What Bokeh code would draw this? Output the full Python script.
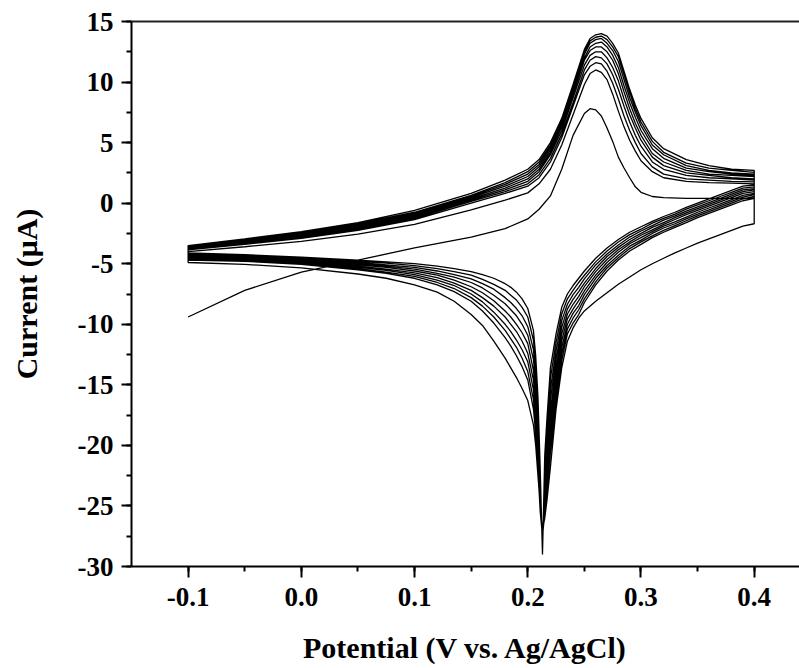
from bokeh.plotting import figure
from bokeh.models import Range1d, SingleIntervalTicker, PrintfTickFormatter, LinearAxis, FixedTicker
from bokeh.embed import file_html
from bokeh.resources import INLINE

# Potential grids (V vs. Ag/AgCl)
FWD_X = [-0.1, -0.05, 0.0, 0.05, 0.1, 0.15, 0.18, 0.2, 0.21, 0.22, 0.23, 0.24, 0.25, 0.255,
         0.26, 0.265, 0.27, 0.275, 0.28, 0.285, 0.29, 0.295, 0.3, 0.31, 0.32, 0.34, 0.36, 0.38, 0.4]
REV_X = [0.4, 0.39, 0.38, 0.37, 0.36, 0.35, 0.34, 0.33, 0.32, 0.31, 0.3, 0.29, 0.28, 0.27, 0.26,
         0.25, 0.245, 0.24, 0.235, 0.23, 0.225, 0.22, 0.217, 0.215,
         0.213, 0.211, 0.209, 0.207, 0.205, 0.2, 0.195, 0.19, 0.185, 0.18, 0.17, 0.16, 0.15,
         0.135, 0.12, 0.1, 0.075, 0.05, 0.0, -0.05, -0.1]

# Current (uA), anodic (forward) sweeps, cycles 1..10
FWD_C1 = [-9.4, -7.2, -5.7, -4.7, -3.7, -2.8, -2.1, -1.3, -0.5, 0.6, 2.8, 5.6, 7.4, 7.8, 7.7, 7.2, 6.2, 5.1, 3.8, 2.9, 2.1, 1.35, 0.9, 0.55, 0.45, 0.4, 0.4, 0.4, 0.4]
FWD_C2 = [-4.0, -3.6, -3.15, -2.55, -1.75, -0.55, 0.25, 0.85, 1.6, 2.8, 4.8, 7.3, 9.8, 10.7, 11.0, 10.8, 10.2, 9.0, 7.6, 6.3, 5.2, 4.3, 3.5, 2.6, 2.1, 1.8, 1.7, 1.65, 1.6]
FWD_C3 = [-3.85, -3.4, -2.9, -2.25, -1.35, 0.0, 0.8, 1.4, 2.1, 3.4, 5.4, 8.0, 10.6, 11.3, 11.6, 11.5, 10.9, 9.9, 8.6, 7.2, 6.0, 5.0, 4.1, 3.0, 2.4, 2.0, 1.9, 1.8, 1.75]
FWD_C4 = [-3.8, -3.35, -2.8, -2.15, -1.25, 0.15, 0.95, 1.6, 2.35, 3.7, 5.7, 8.3, 11.0, 11.8, 12.1, 12.0, 11.5, 10.6, 9.4, 8.0, 6.7, 5.6, 4.7, 3.4, 2.8, 2.3, 2.1, 2.0, 1.9]
FWD_C5 = [-3.75, -3.3, -2.7, -2.05, -1.15, 0.25, 1.1, 1.8, 2.6, 4.0, 6.0, 8.7, 11.4, 12.2, 12.5, 12.5, 12.0, 11.2, 10.1, 8.6, 7.3, 6.2, 5.2, 3.8, 3.1, 2.5, 2.3, 2.1, 2.0]
FWD_C6 = [-3.7, -3.2, -2.65, -1.95, -1.05, 0.35, 1.25, 2.0, 2.8, 4.2, 6.3, 9.0, 11.8, 12.6, 12.9, 12.9, 12.5, 11.8, 10.7, 9.2, 7.8, 6.6, 5.6, 4.1, 3.4, 2.7, 2.4, 2.3, 2.2]
FWD_C7 = [-3.65, -3.15, -2.55, -1.85, -0.95, 0.45, 1.4, 2.2, 3.0, 4.4, 6.5, 9.2, 12.0, 12.9, 13.2, 13.3, 12.9, 12.2, 11.2, 9.7, 8.3, 7.1, 6.0, 4.5, 3.7, 2.9, 2.6, 2.4, 2.3]
FWD_C8 = [-3.6, -3.1, -2.5, -1.75, -0.85, 0.55, 1.55, 2.4, 3.2, 4.6, 6.7, 9.4, 12.3, 13.2, 13.5, 13.6, 13.2, 12.6, 11.7, 10.2, 8.7, 7.5, 6.4, 4.8, 4.0, 3.1, 2.7, 2.5, 2.4]
FWD_C9 = [-3.55, -3.0, -2.4, -1.7, -0.75, 0.65, 1.7, 2.6, 3.4, 4.8, 6.9, 9.6, 12.5, 13.4, 13.7, 13.8, 13.5, 12.9, 12.1, 10.6, 9.1, 7.8, 6.7, 5.1, 4.2, 3.3, 2.9, 2.7, 2.55]
FWD_C10 = [-3.5, -2.95, -2.35, -1.6, -0.6, 0.8, 1.9, 2.8, 3.6, 5.0, 7.0, 9.8, 12.7, 13.6, 13.9, 14.0, 13.8, 13.2, 12.4, 10.9, 9.4, 8.1, 7.0, 5.4, 4.5, 3.6, 3.1, 2.8, 2.7]

# Current (uA), cathodic (reverse) sweeps, cycles 1..10
REV_C1 = [-1.7, -1.9, -2.25, -2.6, -2.95, -3.3, -3.7, -4.1, -4.55, -5.0, -5.5, -6.1, -6.7, -7.4, -8.1, -8.9, -9.5, -10.3, -11.4, -13.6, -17.0, -21.8, -24.5, -26.0,
          -27.0, -25.0, -22.5, -20.0, -18.3, -16.3, -15.3, -14.4, -13.6, -12.8, -11.4, -10.1, -9.2, -8.1, -7.35, -6.75, -6.2, -5.85, -5.35, -5.05, -4.9]
REV_C2 = [0.4, 0.2, -0.15, -0.5, -0.85, -1.2, -1.6, -2.0, -2.4, -2.85, -3.4, -3.95, -4.7, -5.6, -6.75, -8.2, -9.2, -9.9, -10.8, -13.0, -16.4, -20.6, -23.6, -25.6,
          -27.5, -25.5, -22.0, -19.0, -17.0, -14.6, -13.5, -12.6, -11.8, -11.1, -9.9, -8.9, -8.1, -7.3, -6.75, -6.2, -5.8, -5.5, -5.05, -4.8, -4.7]
REV_C3 = [0.55, 0.35, 0.0, -0.35, -0.7, -1.05, -1.45, -1.85, -2.25, -2.7, -3.2, -3.75, -4.5, -5.35, -6.5, -7.9, -8.8, -9.5, -10.4, -12.45, -15.7, -19.7, -22.9, -25.0,
          -27.7, -25.1, -21.2, -18.2, -16.2, -13.9, -12.8, -11.9, -11.2, -10.5, -9.4, -8.5, -7.8, -7.05, -6.55, -6.05, -5.7, -5.4, -4.95, -4.75, -4.6]
REV_C4 = [0.7, 0.5, 0.15, -0.2, -0.55, -0.9, -1.3, -1.7, -2.05, -2.5, -3.05, -3.55, -4.3, -5.15, -6.2, -7.55, -8.45, -9.1, -10.0, -11.9, -15.0, -18.85, -22.1, -24.4,
          -27.9, -24.6, -20.5, -17.4, -15.4, -13.1, -12.1, -11.3, -10.6, -10.0, -9.0, -8.15, -7.5, -6.8, -6.35, -5.9, -5.55, -5.3, -4.9, -4.65, -4.55]
REV_C5 = [0.8, 0.65, 0.3, -0.05, -0.4, -0.75, -1.15, -1.55, -1.9, -2.35, -2.85, -3.35, -4.05, -4.9, -5.95, -7.25, -8.05, -8.75, -9.55, -11.35, -14.3, -17.95, -21.4, -23.8,
          -28.1, -24.2, -19.8, -16.6, -14.6, -12.4, -11.4, -10.6, -10.0, -9.4, -8.5, -7.8, -7.2, -6.6, -6.15, -5.75, -5.45, -5.2, -4.8, -4.6, -4.5]
REV_C6 = [0.95, 0.8, 0.45, 0.1, -0.25, -0.6, -0.95, -1.35, -1.75, -2.2, -2.65, -3.2, -3.85, -4.65, -5.65, -6.9, -7.7, -8.35, -9.15, -10.8, -13.6, -17.1, -20.65, -23.2,
          -28.3, -23.8, -19.0, -15.8, -13.8, -11.6, -10.7, -10.0, -9.4, -8.9, -8.05, -7.4, -6.9, -6.35, -5.95, -5.6, -5.3, -5.1, -4.75, -4.5, -4.4]
REV_C7 = [1.1, 0.95, 0.6, 0.25, -0.1, -0.45, -0.8, -1.2, -1.6, -2.0, -2.5, -3.0, -3.65, -4.4, -5.4, -6.6, -7.3, -7.95, -8.75, -10.25, -12.9, -16.2, -19.9, -22.6,
          -28.5, -23.3, -18.2, -15.0, -12.9, -10.9, -10.0, -9.3, -8.8, -8.3, -7.6, -7.0, -6.55, -6.1, -5.8, -5.45, -5.2, -5.0, -4.65, -4.45, -4.3]
REV_C8 = [1.2, 1.1, 0.75, 0.4, 0.05, -0.3, -0.65, -1.05, -1.4, -1.85, -2.3, -2.8, -3.45, -4.2, -5.1, -6.25, -6.95, -7.55, -8.35, -9.7, -12.2, -15.35, -19.2, -22.0,
          -28.7, -22.9, -17.5, -14.2, -12.1, -10.2, -9.3, -8.7, -8.2, -7.8, -7.1, -6.65, -6.25, -5.9, -5.6, -5.3, -5.1, -4.9, -4.6, -4.4, -4.25]
REV_C9 = [1.35, 1.25, 0.9, 0.55, 0.2, -0.15, -0.5, -0.9, -1.25, -1.65, -2.15, -2.6, -3.2, -3.95, -4.85, -5.95, -6.55, -7.2, -7.9, -9.15, -11.5, -14.45, -18.45, -21.4,
          -28.9, -22.4, -16.8, -13.4, -11.3, -9.4, -8.6, -8.0, -7.6, -7.2, -6.7, -6.3, -5.95, -5.65, -5.4, -5.15, -4.95, -4.8, -4.5, -4.3, -4.15]
REV_C10 = [1.5, 1.4, 1.05, 0.7, 0.35, 0.0, -0.35, -0.75, -1.1, -1.5, -1.95, -2.4, -3.0, -3.7, -4.55, -5.6, -6.2, -6.8, -7.5, -8.6, -10.8, -13.6, -17.7, -20.8,
           -29.0, -22.0, -16.0, -12.6, -10.5, -8.7, -7.9, -7.35, -6.95, -6.65, -6.2, -5.9, -5.65, -5.4, -5.2, -5.0, -4.85, -4.7, -4.45, -4.25, -4.1]

FWD = [FWD_C1, FWD_C2, FWD_C3, FWD_C4, FWD_C5, FWD_C6, FWD_C7, FWD_C8, FWD_C9, FWD_C10]
REV = [REV_C1, REV_C2, REV_C3, REV_C4, REV_C5, REV_C6, REV_C7, REV_C8, REV_C9, REV_C10]

xs, ys = [], []
for f, r in zip(FWD, REV):
    assert len(f) == len(FWD_X) and len(r) == len(REV_X)
    xs += FWD_X + REV_X
    ys += f + r

FONT = "Liberation Serif"

p = figure(width=799, height=668, x_range=Range1d(-0.15, 0.44), y_range=Range1d(-30, 15),
           output_backend="svg", toolbar_location=None,
           min_border_left=131, min_border_right=0, min_border_top=21, min_border_bottom=102,
           x_axis_label="Potential (V vs. Ag/AgCl)", y_axis_label="Current (\u03bcA)")
p.outline_line_color = None
p.xgrid.visible = False
p.ygrid.visible = False
p.background_fill_color = "white"
p.border_fill_color = "white"

p.line(xs, ys, line_color="black", line_width=1.3)

xa = p.xaxis[0]
xa.ticker = SingleIntervalTicker(interval=0.1, num_minor_ticks=2)
xa.formatter = PrintfTickFormatter(format="%.1f")
ya = p.yaxis[0]
ya.ticker = SingleIntervalTicker(interval=5, num_minor_ticks=2)
ya.formatter = PrintfTickFormatter(format="%d")

for ax in (xa, ya):
    ax.axis_line_width = 2
    ax.axis_line_color = "black"
    ax.major_tick_line_width = 2
    ax.minor_tick_line_width = 2
    ax.major_tick_line_color = "black"
    ax.minor_tick_line_color = "black"
    ax.major_tick_in = 0
    ax.minor_tick_in = 0
    ax.minor_tick_out = 5
    ax.major_label_text_font = FONT
    ax.major_label_text_font_style = "bold"
    ax.major_label_text_font_size = "27px"
    ax.major_label_text_color = "black"
    ax.axis_label_text_font = FONT
    ax.axis_label_text_font_style = "bold"
    ax.axis_label_text_font_size = "30px"
    ax.axis_label_text_color = "black"

xa.major_tick_out = 11
xa.major_label_standoff = 10
xa.axis_label_standoff = 22
ya.major_tick_out = 10
ya.major_label_standoff = 8
ya.axis_label_standoff = 32

top = LinearAxis(ticker=FixedTicker(ticks=[]), axis_line_width=2, axis_line_color="#222222",
                 major_tick_line_color=None, minor_tick_line_color=None,
                 major_label_text_font_size="0px")
p.add_layout(top, "above")

open("out.html", "w").write(file_html(p, INLINE))
